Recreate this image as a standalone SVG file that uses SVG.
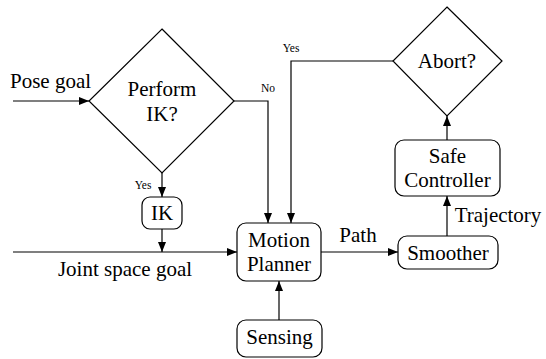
<svg xmlns="http://www.w3.org/2000/svg" width="546" height="359" viewBox="0 0 546 359">
<defs>
<marker id="ah" viewBox="0 0 10 8" refX="10" refY="4" markerWidth="10" markerHeight="8" markerUnits="userSpaceOnUse" orient="auto">
<path d="M0,0 L10,4 L0,8 Z" fill="#000"/>
</marker>
</defs>
<g id="connectors" fill="none" stroke="#000" stroke-width="1.2">
<path d="M13,101 H89" marker-end="url(#ah)"/>
<path d="M234,101 H268 V223" marker-end="url(#ah)"/>
<path d="M162,173 V197" marker-end="url(#ah)"/>
<path d="M162,229 V252" marker-end="url(#ah)"/>
<path d="M13,252 H237" marker-end="url(#ah)"/>
<path d="M393,61 H291 V223" marker-end="url(#ah)"/>
<path d="M321,252 H398" marker-end="url(#ah)"/>
<path d="M279,320 V281" marker-end="url(#ah)"/>
<path d="M447,236 V196" marker-end="url(#ah)"/>
<path d="M447,140 V116" marker-end="url(#ah)"/>
</g>
<g id="labels" fill="#000" text-anchor="middle">
<text font-family="Liberation Serif" font-size="21" x="50.5" y="88">Pose goal</text>
<text font-family="Liberation Serif" font-size="11.5" x="268" y="92">No</text>
<text font-family="Liberation Serif" font-size="11.5" x="143" y="189">Yes</text>
<text font-family="Liberation Serif" font-size="21" x="125" y="276">Joint space goal</text>
<text font-family="Liberation Serif" font-size="11.5" x="291" y="52">Yes</text>
<text font-family="Liberation Serif" font-size="21" x="358" y="242">Path</text>
<text font-family="Liberation Serif" font-size="21" x="498" y="222">Trajectory</text>
</g>
<g id="nodes" fill="#fff" stroke="#000" stroke-width="1.2">
<g id="perform-ik">
<path d="M162,29 L234,101 L162,173 L89,101 Z"/>
<text font-family="Liberation Serif" font-size="21" text-anchor="middle" fill="#000" stroke="none" x="162" y="96">Perform</text>
<text font-family="Liberation Serif" font-size="21" text-anchor="middle" fill="#000" stroke="none" x="162" y="121">IK?</text>
</g>
<g id="ik">
<rect x="142" y="197" width="40" height="32" rx="8"/>
<text font-family="Liberation Serif" font-size="21" text-anchor="middle" fill="#000" stroke="none" x="162" y="220">IK</text>
</g>
<g id="motion-planner">
<rect x="237" y="223" width="84" height="58" rx="9"/>
<text font-family="Liberation Serif" font-size="21" text-anchor="middle" fill="#000" stroke="none" x="279" y="247">Motion</text>
<text font-family="Liberation Serif" font-size="21" text-anchor="middle" fill="#000" stroke="none" x="279" y="271">Planner</text>
</g>
<g id="sensing">
<rect x="237" y="320" width="85" height="37" rx="9"/>
<text font-family="Liberation Serif" font-size="21" text-anchor="middle" fill="#000" stroke="none" x="279.5" y="344">Sensing</text>
</g>
<g id="smoother">
<rect x="398" y="236" width="100" height="33" rx="9"/>
<text font-family="Liberation Serif" font-size="21" text-anchor="middle" fill="#000" stroke="none" x="448" y="260">Smoother</text>
</g>
<g id="safe-controller">
<rect x="395" y="140" width="105" height="56" rx="9"/>
<text font-family="Liberation Serif" font-size="21" text-anchor="middle" fill="#000" stroke="none" x="447.5" y="163">Safe</text>
<text font-family="Liberation Serif" font-size="21" text-anchor="middle" fill="#000" stroke="none" x="447.5" y="187">Controller</text>
</g>
<g id="abort">
<path d="M447,7 L502,61 L447,116 L393,61 Z"/>
<text font-family="Liberation Serif" font-size="21" text-anchor="middle" fill="#000" stroke="none" x="447" y="68">Abort?</text>
</g>
</g>
</svg>
